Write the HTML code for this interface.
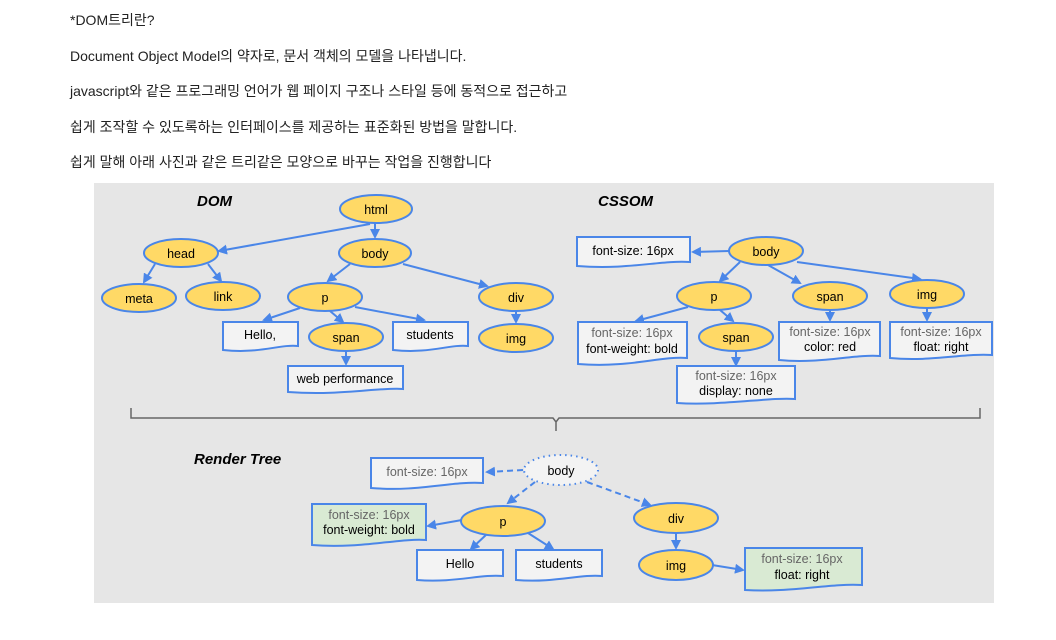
<!DOCTYPE html>
<html><head><meta charset="utf-8">
<style>
html,body{margin:0;padding:0;background:#fff;width:1056px;height:640px;overflow:hidden}
svg{display:block}
.t{font-family:"Liberation Sans","Noto Sans CJK KR",sans-serif;font-size:14px;fill:#222}
.n{font-family:"Liberation Sans",sans-serif;font-size:12.5px;fill:#000;text-anchor:middle}
.g{fill:#666}
.h{font-family:"Liberation Sans",sans-serif;font-size:15px;font-weight:bold;font-style:italic;fill:#000}
.e{fill:#ffd966;stroke:#4a86e8;stroke-width:2}
.b{fill:#f3f3f3;stroke:#4a86e8;stroke-width:2}
.gr{fill:#d9ead3;stroke:#4a86e8;stroke-width:2}
.l{stroke:#4a86e8;stroke-width:2;fill:none;marker-end:url(#a)}
.d{stroke-dasharray:6 4}
</style></head><body>
<svg width="1056" height="640" viewBox="0 0 1056 640" xmlns="http://www.w3.org/2000/svg">
<defs><marker id="a" markerWidth="10" markerHeight="10" refX="8" refY="5" orient="auto" markerUnits="userSpaceOnUse"><path d="M0,0 L10,5 L0,10 Z" fill="#4a86e8"/></marker></defs>
<text class="t" x="70" y="25">*DOM트리란?</text>
<text class="t" x="70" y="61">Document Object Model의 약자로, 문서 객체의 모델을 나타냅니다.</text>
<text class="t" x="70" y="96">javascript와 같은 프로그래밍 언어가 웹 페이지 구조나 스타일 등에 동적으로 접근하고</text>
<text class="t" x="70" y="132">쉽게 조작할 수 있도록하는 인터페이스를 제공하는 표준화된 방법을 말합니다.</text>
<text class="t" x="70" y="167">쉽게 말해 아래 사진과 같은 트리같은 모양으로 바꾸는 작업을 진행합니다</text>
<rect x="94" y="183" width="900" height="420" fill="#e6e6e6"/>

<!-- DOM -->
<text class="h" x="197" y="206">DOM</text>
<line class="l" x1="375" y1="223" x2="375" y2="237"/>
<line class="l" x1="370" y1="224" x2="219" y2="251"/>
<line class="l" x1="155" y1="264" x2="144" y2="282"/>
<line class="l" x1="208" y1="264" x2="221" y2="281"/>
<line class="l" x1="350" y1="264" x2="328" y2="281"/>
<line class="l" x1="403" y1="264" x2="487" y2="286"/>
<line class="l" x1="516" y1="311" x2="516" y2="322"/>
<line class="l" x1="300" y1="308" x2="264" y2="320"/>
<line class="l" x1="330" y1="311" x2="343" y2="322"/>
<line class="l" x1="355" y1="307" x2="424" y2="320"/>
<line class="l" x1="346" y1="351" x2="346" y2="364"/>
<ellipse class="e" cx="376" cy="209" rx="36" ry="14"/><text class="n" x="376" y="214">html</text>
<ellipse class="e" cx="181" cy="253" rx="37" ry="14"/><text class="n" x="181" y="258">head</text>
<ellipse class="e" cx="375" cy="253" rx="36" ry="14"/><text class="n" x="375" y="258">body</text>
<ellipse class="e" cx="139" cy="298" rx="37" ry="14"/><text class="n" x="139" y="303">meta</text>
<ellipse class="e" cx="223" cy="296" rx="37" ry="14"/><text class="n" x="223" y="301">link</text>
<ellipse class="e" cx="325" cy="297" rx="37" ry="14"/><text class="n" x="325" y="302">p</text>
<ellipse class="e" cx="516" cy="297" rx="37" ry="14"/><text class="n" x="516" y="302">div</text>
<ellipse class="e" cx="516" cy="338" rx="37" ry="14"/><text class="n" x="516" y="343">img</text>
<ellipse class="e" cx="346" cy="337" rx="37" ry="14"/><text class="n" x="346" y="342">span</text>
<path class="b" d="M223,322 H298 V346 C280,344 260,354 223,350 Z"/><text class="n" x="260" y="339">Hello,</text>
<path class="b" d="M393,322 H468 V346 C450,344 430,354 393,350 Z"/><text class="n" x="430" y="339">students</text>
<path class="b" d="M288,366 H403 V389 C380,387 340,396 288,392 Z"/><text class="n" x="345" y="383">web performance</text>

<!-- CSSOM -->
<text class="h" x="598" y="206">CSSOM</text>
<line class="l" x1="729" y1="251" x2="693" y2="252"/>
<line class="l" x1="740" y1="262" x2="720" y2="281"/>
<line class="l" x1="768" y1="265" x2="800" y2="283"/>
<line class="l" x1="797" y1="262" x2="920" y2="279"/>
<line class="l" x1="688" y1="307" x2="636" y2="321"/>
<line class="l" x1="720" y1="310" x2="733" y2="321"/>
<line class="l" x1="830" y1="310" x2="830" y2="320"/>
<line class="l" x1="927" y1="308" x2="927" y2="320"/>
<line class="l" x1="736" y1="351" x2="736" y2="365"/>
<path class="b" d="M577,237 H690 V262 C660,260 630,270 577,266 Z"/><text class="n" x="633" y="255">font-size: 16px</text>
<ellipse class="e" cx="766" cy="251" rx="37" ry="14"/><text class="n" x="766" y="256">body</text>
<ellipse class="e" cx="714" cy="296" rx="37" ry="14"/><text class="n" x="714" y="301">p</text>
<ellipse class="e" cx="830" cy="296" rx="37" ry="14"/><text class="n" x="830" y="301">span</text>
<ellipse class="e" cx="927" cy="294" rx="37" ry="14"/><text class="n" x="927" y="299">img</text>
<ellipse class="e" cx="736" cy="337" rx="37" ry="14"/><text class="n" x="736" y="342">span</text>
<path class="b" d="M578,322 H687 V358 C660,356 630,368 578,364 Z"/><text class="n g" x="632" y="337">font-size: 16px</text><text class="n" x="632" y="353">font-weight: bold</text>
<path class="b" d="M677,366 H795 V399 C770,397 720,406 677,403 Z"/><text class="n g" x="736" y="380">font-size: 16px</text><text class="n" x="736" y="395">display: none</text>
<path class="b" d="M779,322 H880 V356 C855,354 820,364 779,360 Z"/><text class="n g" x="830" y="336">font-size: 16px</text><text class="n" x="830" y="351">color: red</text>
<path class="b" d="M890,322 H992 V355 C965,353 930,362 890,358 Z"/><text class="n g" x="941" y="336">font-size: 16px</text><text class="n" x="941" y="351">float: right</text>

<!-- brace -->
<path d="M131,408 V418 H553 L556,422 L559,418 H980 V408 M556,422 V431" stroke="#666" stroke-width="1.5" fill="none"/>

<!-- Render Tree -->
<text class="h" x="194" y="464">Render Tree</text>
<line class="l d" x1="523" y1="470" x2="487" y2="472"/>
<line class="l d" x1="535" y1="482" x2="508" y2="503"/>
<line class="l d" x1="587" y1="482" x2="650" y2="505"/>
<line class="l" x1="462" y1="520" x2="428" y2="526"/>
<line class="l" x1="487" y1="534" x2="471" y2="549"/>
<line class="l" x1="528" y1="533" x2="553" y2="549"/>
<line class="l" x1="676" y1="533" x2="676" y2="548"/>
<line class="l" x1="712" y1="565" x2="743" y2="570"/>
<path class="b" d="M371,458 H483 V483 C450,481 420,492 371,488 Z"/><text class="n g" x="427" y="476">font-size: 16px</text>
<ellipse cx="561" cy="470" rx="37" ry="15" fill="#f3f3f3" stroke="#4a86e8" stroke-width="2" stroke-dasharray="1.5 4"/><text class="n" x="561" y="475">body</text>
<path class="gr" d="M312,504 H426 V540 C400,538 360,549 312,545 Z"/><text class="n g" x="369" y="519">font-size: 16px</text><text class="n" x="369" y="534">font-weight: bold</text>
<ellipse class="e" cx="503" cy="521" rx="42" ry="15"/><text class="n" x="503" y="526">p</text>
<path class="b" d="M417,550 H503 V576 C480,574 455,583 417,580 Z"/><text class="n" x="460" y="568">Hello</text>
<path class="b" d="M516,550 H602 V576 C580,574 555,583 516,580 Z"/><text class="n" x="559" y="568">students</text>
<ellipse class="e" cx="676" cy="518" rx="42" ry="15"/><text class="n" x="676" y="523">div</text>
<ellipse class="e" cx="676" cy="565" rx="37" ry="15"/><text class="n" x="676" y="570">img</text>
<path class="gr" d="M745,548 H862 V585 C830,583 790,593 745,590 Z"/><text class="n g" x="802" y="563">font-size: 16px</text><text class="n" x="802" y="579">float: right</text>
</svg>
</body></html>
